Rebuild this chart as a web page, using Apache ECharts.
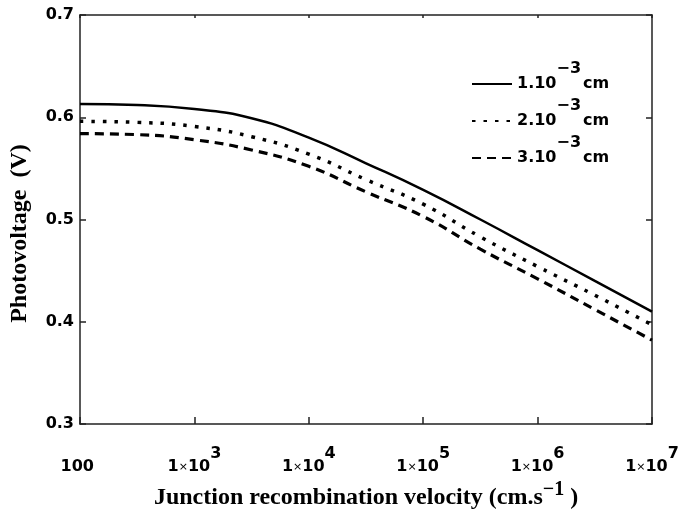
<!DOCTYPE html>
<html>
<head>
<meta charset="utf-8">
<script src="https://cdn.jsdelivr.net/npm/echarts@6/dist/echarts.min.js"></script>
<style>
  html, body { margin: 0; padding: 0; background: #fff; }
  #chart { width: 683px; height: 510px; }
</style>
</head>
<body>
<div id="chart"></div>
<script>
// Junction recombination velocity samples (cm/s), half-decade steps
const velocity = [100, 316, 1000, 3162, 10000, 31623, 100000, 316228, 1000000, 3162278, 10000000];

// Photovoltage (V) for three base thicknesses
const pv1 = [0.613, 0.612, 0.608, 0.599, 0.580, 0.555, 0.529, 0.500, 0.470, 0.440, 0.410];
const pv2 = [0.596, 0.595, 0.591, 0.581, 0.564, 0.539, 0.515, 0.483, 0.454, 0.426, 0.397];
const pv3 = [0.584, 0.583, 0.578, 0.568, 0.552, 0.527, 0.503, 0.471, 0.442, 0.412, 0.382];

const seriesNames = ['1.10', '2.10', '3.10'];
const yTicks = [0.3, 0.4, 0.5, 0.6, 0.7];

const pairs = (ys) => velocity.map((v, i) => [v, ys[i]]);

const labelFont = 'DejaVu Sans, Verdana, sans-serif';
const titleFont = 'Liberation Serif, Times New Roman, serif';

const chart = echarts.init(document.getElementById('chart'), null, { renderer: 'canvas' });

const xLabelRich = {
  b: { fontFamily: labelFont, fontWeight: 'bold', fontSize: 16, color: '#000' },
  x: { fontFamily: labelFont, fontSize: 11, color: '#000' },
  s: { fontFamily: labelFont, fontWeight: 'bold', fontSize: 16, color: '#000', padding: [0, 0, 26, 0] }
};

function xLabel(v) {
  const e = Math.round(Math.log10(v));
  if (e === 2) return '{b|100}{s| }';
  return '{b|1}{x|×}{b|10}{s|' + e + '}';
}

const baseX = {
  type: 'log',
  logBase: 10,
  min: 100,
  max: 10000000,
  axisLine: { lineStyle: { color: '#222', width: 1.5 } },
  splitLine: { show: false },
  minorTick: { show: false }
};

const baseY = {
  type: 'value',
  min: 0.3,
  max: 0.7,
  interval: 0.1,
  axisLine: { show: true, lineStyle: { color: '#222', width: 1.5 } },
  splitLine: { show: false }
};

const option = {
  backgroundColor: '#fff',
  animation: false,
  grid: { left: 80, right: 31, top: 15, bottom: 86, containLabel: false, outerBoundsMode: 'none' },
  legend: {
    orient: 'vertical',
    left: 466,
    top: 56,
    itemWidth: 40,
    itemHeight: 14,
    itemGap: 6,
    data: seriesNames,
    itemStyle: { opacity: 0 },
    formatter: (name) => '{n|' + name + '}{s|−3}{u|cm}',
    textStyle: {
      rich: {
        n: { fontFamily: labelFont, fontWeight: 'bold', fontSize: 16, color: '#000' },
        s: { fontFamily: labelFont, fontWeight: 'bold', fontSize: 16, color: '#000', padding: [0, 0, 30, 0] },
        u: { fontFamily: labelFont, fontWeight: 'bold', fontSize: 16, color: '#000', padding: [0, 0, 0, 2] }
      }
    }
  },
  xAxis: [
    Object.assign({}, baseX, {
      position: 'bottom',
      axisTick: { inside: true, length: 7, lineStyle: { color: '#222', width: 1.5 } },
      axisLabel: {
        margin: 22,
        formatter: xLabel,
        rich: xLabelRich
      },
      name: '{t|Junction recombination velocity (cm.s}{p|−1}{t| )}',
      nameLocation: 'middle',
      nameGap: 54,
      nameTextStyle: {
        rich: {
          t: { fontFamily: titleFont, fontWeight: 'bold', fontSize: 24, color: '#000' },
          p: { fontFamily: titleFont, fontWeight: 'bold', fontSize: 20, color: '#000', padding: [0, 0, 16, 0] }
        }
      }
    }),
    Object.assign({}, baseX, {
      position: 'top',
      axisTick: { inside: true, length: 3, lineStyle: { color: '#222', width: 1.5 } },
      axisLabel: { show: false }
    })
  ],
  yAxis: [
    Object.assign({}, baseY, {
      position: 'left',
      axisTick: { inside: true, length: 6, lineStyle: { color: '#222', width: 1.5 } },
      axisLabel: {
        margin: 6,
        fontFamily: labelFont,
        fontWeight: 'bold',
        fontSize: 16,
        color: '#000',
        formatter: (v) => {
          const t = yTicks.find((k) => Math.abs(k - v) < 1e-9);
          return t === undefined ? '' : t.toFixed(1);
        }
      },
      name: 'Photovoltage  (V)',
      nameLocation: 'middle',
      nameRotate: 90,
      nameGap: 48,
      nameTextStyle: {
        fontFamily: titleFont, fontWeight: 'bold', fontSize: 24, color: '#000',
        padding: [0, 28, 0, 0]
      }
    }),
    Object.assign({}, baseY, {
      position: 'right',
      axisTick: { inside: true, length: 6, lineStyle: { color: '#222', width: 1.5 } },
      axisLabel: { show: false }
    })
  ],
  series: [
    {
      name: seriesNames[0], type: 'line', smooth: true, symbol: 'none',
      xAxisIndex: 0, yAxisIndex: 0,
      lineStyle: { color: '#000', width: 2.5, type: 'solid' },
      data: pairs(pv1)
    },
    {
      name: seriesNames[1], type: 'line', smooth: true, symbol: 'none',
      xAxisIndex: 0, yAxisIndex: 0,
      lineStyle: { color: '#000', width: 3.5, type: [3.5, 8] },
      data: pairs(pv2)
    },
    {
      name: seriesNames[2], type: 'line', smooth: true, symbol: 'none',
      xAxisIndex: 0, yAxisIndex: 0,
      lineStyle: { color: '#000', width: 3.2, type: [9, 6] },
      data: pairs(pv3)
    }
  ]
};

chart.setOption(option);
</script>
</body>
</html>
